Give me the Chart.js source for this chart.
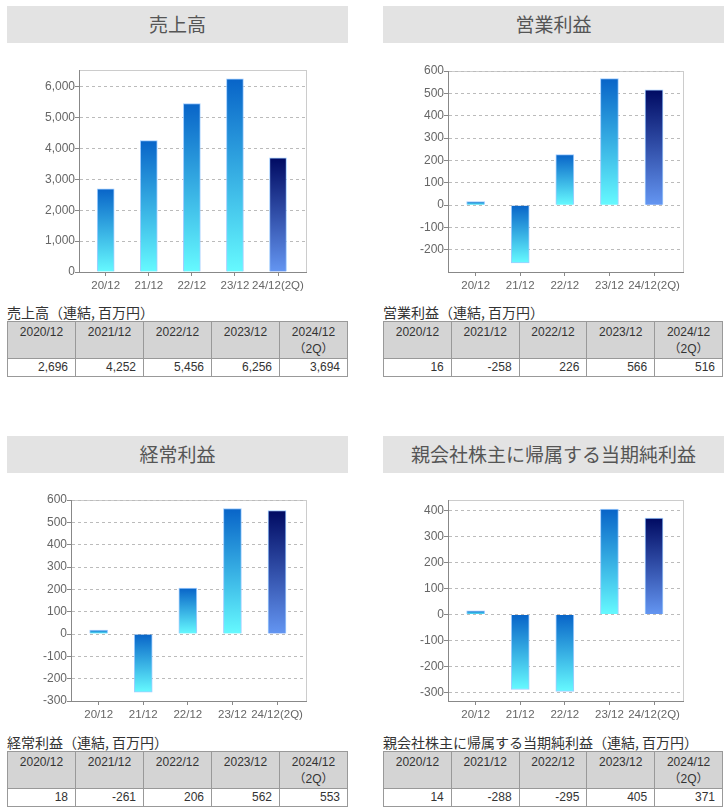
<!DOCTYPE html>
<html>
<head>
<meta charset="utf-8">
<script src="https://cdn.jsdelivr.net/npm/chart.js@4.4.1/dist/chart.umd.min.js"></script>
<style>
  body { margin: 0; background: #fff; width: 728px; height: 812px; position: relative; overflow: hidden;
         font-family: "Liberation Sans", Arial, "Noto Sans CJK JP", sans-serif; color: #333; }
  .ttl { position: absolute; height: 37px; background: #e3e3e3; color: #555; text-align: center;
         font-family: "Noto Sans CJK JP", sans-serif; font-size: 19px; line-height: 36px; }
  .cap { position: absolute; font-family: "Noto Sans CJK JP", sans-serif; font-size: 14px; line-height: 16px; color: #333; white-space: nowrap; }
  canvas { position: absolute; }
  table { position: absolute; border-collapse: collapse; table-layout: fixed; font-size: 12px; }
  th, td { border: 1px solid #999; padding: 0; }
  th { background: #d4d4d4; font-weight: normal; vertical-align: top; line-height: 17px; padding-top: 2px; height: 34px; }
  td { text-align: right; padding-right: 7px; height: 17px; line-height: 17px; }
</style>
</head>
<body>
<script>
// categories and values (百万円)
const categories = ['20/12', '21/12', '22/12', '23/12', '24/12(2Q)'];
const tableHeads = ['2020/12', '2021/12', '2022/12', '2023/12', '2024/12<br>（2Q）'];
const sales = [2696, 4252, 5456, 6256, 3694];
const opIncome = [16, -258, 226, 566, 516];
const ordIncome = [18, -261, 206, 562, 553];
const netIncome = [14, -288, -295, 405, 371];

// axis range [min, max] and tick labels for each chart
const salesRange = [0, 6540];
const salesTicks = [0, 1000, 2000, 3000, 4000, 5000, 6000];
const opRange = [-299, 600];
const opTicks = [-200, -100, 0, 100, 200, 300, 400, 500, 600];
const ordRange = [-300, 600];
const ordTicks = [-300, -200, -100, 0, 100, 200, 300, 400, 500, 600];
const netRange = [-332, 440];
const netTicks = [-300, -200, -100, 0, 100, 200, 300, 400];

const panels = [
  { title: '売上高', values: sales, range: salesRange, ticks: salesTicks, x: 7, w: 341, top: 6, yw: 72, padR: 42, padT: 10, xh: 28, bar: 17 },
  { title: '営業利益', values: opIncome, range: opRange, ticks: opTicks, x: 383, w: 341, top: 6, yw: 65, padR: 41, padT: 11, xh: 28, bar: 18 },
  { title: '経常利益', values: ordIncome, range: ordRange, ticks: ordTicks, x: 7, w: 341, top: 436, yw: 64, padR: 42, padT: 10, xh: 29, bar: 18 },
  { title: '親会社株主に帰属する当期純利益', values: netIncome, range: netRange, ticks: netTicks, x: 383, w: 341, top: 436, yw: 65, padR: 41, padT: 10, xh: 29, bar: 18 }
];

function fmt(n) {
  return String(n).replace(/\B(?=(\d{3})+(?!\d))/g, ',');
}

// light frame around the plot area (top / right edges)
const framePlugin = {
  id: 'frame',
  beforeDraw(chart) {
    const a = chart.chartArea;
    const c = chart.ctx;
    c.save();
    c.strokeStyle = '#cccccc';
    c.lineWidth = 1;
    c.strokeRect(Math.round(a.left) + 0.5, Math.round(a.top) + 0.5, Math.round(a.right - a.left), Math.round(a.bottom - a.top));
    c.restore();
  }
};

function barFill(ctx) {
  const chart = ctx.chart;
  const last = ctx.dataIndex === categories.length - 1;
  if (!chart.chartArea || ctx.type !== 'data') return last ? '#23379a' : '#2a9be0';
  const y = chart.scales.y;
  const v = ctx.parsed.y;
  const top = y.getPixelForValue(Math.max(v, 0));
  const bot = y.getPixelForValue(Math.min(v, 0));
  const g = chart.ctx.createLinearGradient(0, top, 0, bot + 0.01);
  if (last) {
    g.addColorStop(0, '#000a62');
    g.addColorStop(1, '#6496f2');
  } else {
    g.addColorStop(0, '#0864c8');
    g.addColorStop(1, '#66faff');
  }
  return g;
}

panels.forEach(function(p) {
  const t = document.createElement('div');
  t.className = 'ttl';
  t.style.left = p.x + 'px';
  t.style.top = p.top + 'px';
  t.style.width = p.w + 'px';
  t.textContent = p.title;
  document.body.appendChild(t);

  const cv = document.createElement('canvas');
  cv.width = p.w;
  cv.height = 240;
  cv.style.left = p.x + 'px';
  cv.style.top = (p.top + 54) + 'px';
  document.body.appendChild(cv);

  const cap = document.createElement('div');
  cap.className = 'cap';
  cap.style.left = p.x + 'px';
  cap.style.top = (p.top + 298) + 'px';
  cap.textContent = p.title + '（連結, 百万円）';
  document.body.appendChild(cap);

  const tb = document.createElement('table');
  tb.style.left = p.x + 'px';
  tb.style.top = (p.top + 315) + 'px';
  tb.style.width = (p.x > 300 ? 340 : 341) + 'px';
  let html = '<tr>' + tableHeads.map(h => '<th>' + h + '</th>').join('') + '</tr>';
  html += '<tr>' + p.values.map(v => '<td>' + fmt(v) + '</td>').join('') + '</tr>';
  tb.innerHTML = html;
  document.body.appendChild(tb);

  new Chart(cv, {
    type: 'bar',
    data: {
      datasets: [{
        data: p.values.map((v, i) => ({ x: i, y: v })),
        backgroundColor: barFill,
        borderColor: 'rgba(150, 200, 255, 0.9)',
        borderWidth: 1,
        barThickness: p.bar
      }]
    },
    options: {
      responsive: false,
      animation: false,
      layout: { padding: { left: 0, right: p.padR, top: p.padT, bottom: 0 } },
      plugins: { legend: { display: false }, tooltip: { enabled: false } },
      scales: {
        x: {
          type: 'linear',
          offset: false,
          min: -0.62,
          max: 4.65,
          afterFit: s => { s.height = p.xh; },
          afterBuildTicks: s => { s.ticks = categories.map((c, i) => ({ value: i })); },
          grid: { offset: false, drawOnChartArea: false, drawTicks: true, tickLength: 4, tickColor: '#888' },
          border: { color: '#888' },
          ticks: {
            autoSkip: false,
            maxRotation: 0,
            padding: 3,
            color: '#666',
            font: { family: '"Liberation Sans", Arial, sans-serif', size: 11.5 },
            callback: v => categories[v]
          }
        },
        y: {
          min: p.range[0],
          max: p.range[1],
          afterFit: s => { s.width = p.yw; },
          afterBuildTicks: s => { s.ticks = p.ticks.map(v => ({ value: v })); },
          grid: { color: '#bbbbbb', tickLength: 4, tickColor: '#888' },
          border: { color: '#888', dash: [3, 3] },
          ticks: {
            padding: 0,
            color: '#666',
            font: { family: '"Liberation Sans", Arial, sans-serif', size: 12 },
            callback: v => fmt(v)
          }
        }
      }
    },
    plugins: [framePlugin]
  });
});
</script>
</body>
</html>
